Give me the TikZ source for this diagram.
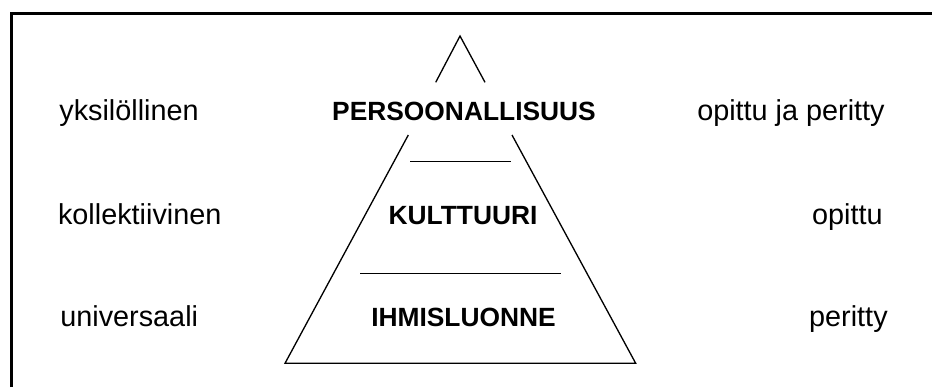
\documentclass[tikz,border=0pt]{standalone}
\usepackage{fontspec}
\setmainfont{Liberation Sans}

\begin{document}
\begin{tikzpicture}[
  x=0.02cm, y=-0.02cm,
  side/.style={inner sep=0pt, font=\fontsize{16.4}{20}\selectfont},
  level/.style={inner sep=0pt, anchor=base, font=\fontsize{15}{18}\selectfont\bfseries},
  frame/.style={line width=1.2pt},
  pyr/.style={line width=0.75pt, line join=miter}
]
\useasboundingbox (0,0) rectangle (932,387);

%% ── Frame (left and top edges only) ──────────────────────────────────────────
\draw[frame] (11.5,387) -- (11.5,13.5) -- (932,13.5);

%% ── Pyramid outline, broken round the top label ─────────────────────────────
\coordinate (apex) at (460,36);
\coordinate (bl)   at (285,363.3);
\coordinate (br)   at (635.7,363.3);
\draw[pyr] (435.7,82.3) -- (apex) -- (485,82.3);
\draw[pyr] (408.3,135) -- (bl) -- (br) -- (512,135);

% Level dividers
\draw[pyr] (410,161.7) -- (510.7,161.7);
\draw[pyr] (360,273.3) -- (560.7,273.3);

%% ── Level labels ─────────────────────────────────────────────────────────────
\node[level] (persoona) at (464,120)   {PERSOONALLISUUS};
\node[level] (kulttuuri) at (463,224)  {KULTTUURI};
\node[level] (ihminen)  at (463.5,326.7) {IHMISLUONNE};

%% ── Left column ──────────────────────────────────────────────────────────────
\node[side, anchor=base west] (yksil)   at (59,120)    {yksilöllinen};
\node[side, anchor=base west] (kollekt) at (57.7,224)  {kollektiivinen};
\node[side, anchor=base west] (univ)    at (60,326.7)  {universaali};

%% ── Right column ─────────────────────────────────────────────────────────────
\node[side, anchor=base east] (opper)  at (885,120)   {opittu ja peritty};
\node[side, anchor=base east] (opittu) at (883,224)   {opittu};
\node[side, anchor=base east] (peritty) at (888,326.7) {peritty};

\end{tikzpicture}
\end{document}
